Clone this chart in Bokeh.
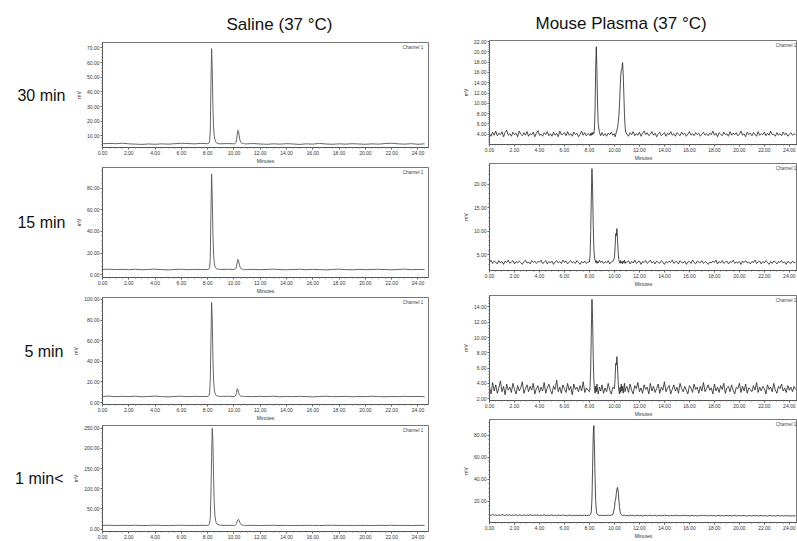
import numpy as np
from bokeh.plotting import figure
from bokeh.layouts import column, row
from bokeh.models import Range1d, LinearAxis, FixedTicker, PrintfTickFormatter, Label
from bokeh.embed import file_html
from bokeh.resources import INLINE

# ---------------- data ----------------
column_titles = ["Saline (37 °C)", "Mouse Plasma (37 °C)"]
row_labels = ["30 min", "15 min", "5 min", "1 min<"]
x_ticks = [0, 2, 4, 6, 8, 10, 12, 14, 16, 18, 20, 22, 24]

t_saline = [
    0.0, 0.5, 1.0, 1.5, 2.0, 2.5, 3.0, 3.5, 4.0, 4.5, 5.0, 5.5, 6.0, 6.5, 7.0, 7.5, 8.0,
    8.05, 8.1, 8.15, 8.2, 8.25, 8.3, 8.35, 8.4, 8.45, 8.5, 8.55, 8.6, 8.65, 8.7, 8.8, 8.9,
    9.0, 9.5,
    10.0, 10.05, 10.1, 10.15, 10.2, 10.25, 10.3, 10.35, 10.4, 10.45, 10.5, 10.55, 10.6, 10.65, 10.7, 10.75, 10.8, 10.85, 10.9,
    11.0, 11.5, 12.0, 12.5, 13.0, 13.5, 14.0, 14.5, 15.0, 15.5, 16.0, 16.5, 17.0, 17.5, 18.0, 18.5, 19.0, 19.5,
    20.0, 20.5, 21.0, 21.5, 22.0, 22.5, 23.0, 23.5, 24.0, 24.5,
]

t_plasma = [
    0.0, 0.125, 0.25, 0.375, 0.5, 0.625, 0.75, 0.875,
    1.0, 1.125, 1.25, 1.375, 1.5, 1.625, 1.75, 1.875,
    2.0, 2.125, 2.25, 2.375, 2.5, 2.625, 2.75, 2.875,
    3.0, 3.125, 3.25, 3.375, 3.5, 3.625, 3.75, 3.875,
    4.0, 4.125, 4.25, 4.375, 4.5, 4.625, 4.75, 4.875,
    5.0, 5.125, 5.25, 5.375, 5.5, 5.625, 5.75, 5.875,
    6.0, 6.125, 6.25, 6.375, 6.5, 6.625, 6.75, 6.875,
    7.0, 7.125, 7.25, 7.375, 7.5, 7.625, 7.75, 7.875,
    8.0,
    8.05, 8.1, 8.15, 8.2, 8.25, 8.3, 8.35, 8.4, 8.45, 8.5, 8.55, 8.6, 8.65, 8.7, 8.8, 8.9,
    9.0, 9.125, 9.25, 9.375, 9.5, 9.625, 9.75, 9.875,
    10.0, 10.05, 10.1, 10.15, 10.2, 10.25, 10.3, 10.35, 10.4, 10.45, 10.5, 10.55, 10.6, 10.65, 10.7, 10.75, 10.8, 10.85, 10.9,
    11.0, 11.125, 11.25, 11.375, 11.5, 11.625, 11.75, 11.875,
    12.0, 12.125, 12.25, 12.375, 12.5, 12.625, 12.75, 12.875,
    13.0, 13.125, 13.25, 13.375, 13.5, 13.625, 13.75, 13.875,
    14.0, 14.125, 14.25, 14.375, 14.5, 14.625, 14.75, 14.875,
    15.0, 15.125, 15.25, 15.375, 15.5, 15.625, 15.75, 15.875,
    16.0, 16.125, 16.25, 16.375, 16.5, 16.625, 16.75, 16.875,
    17.0, 17.125, 17.25, 17.375, 17.5, 17.625, 17.75, 17.875,
    18.0, 18.125, 18.25, 18.375, 18.5, 18.625, 18.75, 18.875,
    19.0, 19.125, 19.25, 19.375, 19.5, 19.625, 19.75, 19.875,
    20.0, 20.125, 20.25, 20.375, 20.5, 20.625, 20.75, 20.875,
    21.0, 21.125, 21.25, 21.375, 21.5, 21.625, 21.75, 21.875,
    22.0, 22.125, 22.25, 22.375, 22.5, 22.625, 22.75, 22.875,
    23.0, 23.125, 23.25, 23.375, 23.5, 23.625, 23.75, 23.875,
    24.0, 24.125, 24.25, 24.375, 24.5,
]

mv_saline_30 = [
    4.6, 4.9, 4.7, 5.0, 4.6, 4.4, 4.2, 4.5, 4.3, 4.6, 4.4, 4.7, 5.0, 4.8, 4.6, 4.9, 4.7,
    4.8, 5.0, 6.0, 14.0, 45.0, 69.5, 55.0, 30.0, 16.0, 10.0, 7.5, 6.0, 5.4, 5.1, 4.9, 4.7,
    4.6, 4.8,
    4.6, 4.7, 4.9, 5.6, 7.5, 11.0, 13.8, 13.0, 10.0, 7.5, 6.0, 5.3, 5.0, 4.8, 4.7, 4.9, 4.6, 4.8, 4.5,
    4.6, 4.8, 4.5, 4.3, 4.6, 4.4, 4.7, 4.5, 4.2, 4.6, 4.4, 4.9, 4.5, 4.3, 4.6, 4.4, 4.7, 4.5,
    4.3, 4.6, 4.4, 4.8, 5.0, 4.6, 4.4, 4.7, 4.3, 4.6,
]
mv_saline_15 = [
    4.9, 5.2, 4.8, 5.0, 4.7, 5.1, 4.6, 4.9, 5.2, 4.8, 4.5, 4.9, 5.1, 4.7, 5.0, 4.8, 4.9,
    5.0, 5.3, 6.5, 16.0, 58.0, 93.0, 72.0, 38.0, 19.0, 11.5, 8.0, 6.5, 5.8, 5.4, 5.1, 5.0,
    4.9, 5.1,
    4.8, 5.0, 5.2, 6.0, 8.0, 11.5, 14.2, 13.2, 10.0, 7.6, 6.2, 5.5, 5.2, 5.0, 4.9, 5.1, 4.8, 5.0, 4.7,
    4.8, 5.0, 4.7, 4.9, 5.2, 4.8, 4.6, 4.9, 5.1, 4.7, 5.0, 4.8, 4.5, 4.9, 5.2, 4.8, 4.6, 5.0,
    4.7, 4.9, 5.1, 4.8, 4.6, 4.9, 5.2, 4.7, 4.9, 4.8,
]
mv_saline_5 = [
    6.0, 6.3, 5.8, 6.1, 5.9, 6.2, 5.7, 6.0, 6.3, 5.9, 5.6, 6.0, 6.2, 5.8, 6.1, 5.9, 6.0,
    6.2, 7.0, 10.0, 22.0, 60.0, 97.0, 80.0, 44.0, 22.0, 13.0, 9.5, 7.8, 7.0, 6.6, 6.3, 6.1,
    6.0, 6.2,
    5.9, 6.1, 6.4, 7.5, 10.0, 13.5, 12.5, 10.0, 8.0, 7.0, 6.5, 6.3, 6.0, 6.2, 5.9, 6.1, 5.8, 6.0, 5.9,
    6.0, 5.8, 6.1, 5.9, 6.2, 5.7, 6.0, 5.8, 6.1, 5.9, 5.6, 6.0, 6.2, 5.8, 5.9, 6.1, 5.7, 6.0,
    5.8, 6.2, 5.9, 5.7, 6.0, 5.8, 6.1, 5.9, 6.0, 5.8,
]
mv_saline_1 = [
    9.0, 9.5, 8.8, 9.3, 8.9, 9.4, 8.7, 9.1, 9.6, 9.0, 8.8, 9.2, 9.5, 9.0, 8.9, 9.3, 9.1,
    9.5, 10.5, 14.0, 30.0, 85.0, 180.0, 250.0, 215.0, 130.0, 65.0, 35.0, 22.0, 16.0, 13.0, 11.0, 10.0,
    9.4, 9.2,
    9.1, 9.3, 9.8, 11.0, 14.0, 19.0, 23.0, 24.0, 21.0, 16.5, 13.0, 11.0, 10.0, 9.6, 9.4, 9.2, 9.3, 9.0, 9.1,
    9.0, 9.3, 8.8, 9.1, 9.4, 8.9, 9.2, 8.7, 9.0, 9.3, 9.1, 8.8, 9.2, 9.5, 8.9, 9.1, 8.8, 9.3,
    9.0, 8.7, 9.2, 9.0, 9.4, 8.9, 9.1, 8.8, 9.2, 9.0,
]

mv_plasma_30 = [
    4.1, 3.6, 4.4, 3.8, 4.6, 3.7, 4.2, 3.9,
    4.5, 3.5, 4.3, 4.8, 3.8, 4.1, 3.6, 4.4,
    3.9, 4.2, 3.5, 4.6, 4.0, 3.7, 4.3, 3.8,
    4.5, 3.6, 4.1, 3.9, 4.4, 3.5, 4.2, 4.7,
    3.8, 4.0, 3.6, 4.3, 3.9, 4.5, 3.7, 4.1,
    3.6, 4.4, 3.8, 4.2, 3.5, 4.6, 3.9, 4.0,
    4.3, 3.7, 4.5, 3.8, 4.1, 3.6, 4.4, 3.9,
    4.2, 3.5, 4.0, 4.6, 3.8, 4.3, 3.7, 4.1,
    3.9,
    3.7, 4.2, 3.8, 4.3, 3.9, 4.4, 4.1, 5.0, 9.0, 17.0, 21.0, 16.0, 9.5, 6.0, 4.3, 3.7,
    4.3, 3.7, 4.1, 3.6, 4.2, 3.9, 4.4, 3.8,
    4.1, 3.5, 3.9, 4.4, 4.8, 5.3, 6.2, 7.5, 9.5, 12.5, 15.3, 16.4, 16.8, 17.9, 15.8, 12.0, 8.0, 5.5, 4.4,
    4.0, 3.6, 4.3, 3.9, 4.5, 3.7, 4.1, 3.8,
    4.4, 3.6, 4.2, 4.6, 3.9, 4.3, 3.7, 4.0,
    4.5, 3.8, 4.2, 3.5, 4.1, 4.4, 3.7, 4.0,
    4.3, 3.6, 4.2, 3.9, 4.5, 3.8, 4.1, 3.6,
    4.3, 4.0, 3.7, 4.4, 3.9, 4.2, 3.6, 4.0,
    4.5, 3.8, 4.1, 3.7, 4.3, 3.9, 4.2, 3.6,
    4.0, 4.4, 3.8, 4.1, 3.7, 4.2, 3.9, 4.6,
    3.8, 4.2, 3.5, 4.3, 4.0, 3.7, 4.4, 3.9,
    4.1, 3.6, 4.5, 3.8, 4.2, 3.9, 4.3, 3.7,
    4.0, 4.6, 3.8, 4.1, 3.5, 4.4, 3.9, 4.2,
    3.7, 4.3, 4.0, 3.6, 4.5, 3.8, 4.1, 3.9,
    4.4, 3.7, 4.2, 3.8, 4.6, 3.9, 4.0, 3.6,
    4.3, 3.8, 4.1, 3.7, 4.4, 3.9, 4.2, 3.6,
    4.0, 4.3, 3.8, 4.1, 3.9,
]
mv_plasma_15 = [
    3.4, 3.9, 3.2, 3.7, 3.5, 3.1, 3.8, 3.3,
    3.6, 3.0, 3.7, 3.4, 3.9, 3.2, 3.5, 3.8,
    3.1, 3.6, 3.3, 3.7, 3.4, 3.0, 3.6, 3.9,
    3.3, 3.5, 3.1, 3.8, 3.4, 3.7, 3.2, 3.6,
    3.5, 3.9, 3.2, 3.4, 3.8, 3.1, 3.6, 3.3,
    3.7, 3.0, 3.5, 3.8, 3.3, 3.6, 3.2, 3.9,
    3.4, 3.7, 3.1, 3.5, 3.8, 3.3, 3.6, 3.2,
    3.8, 3.4, 3.0, 3.6, 3.3, 3.7, 3.2, 3.5,
    3.5,
    5.0, 10.0, 17.5, 23.3, 19.0, 11.5, 6.5, 4.5, 3.9, 3.4, 3.8, 3.2, 3.6, 3.3, 3.9, 3.4,
    3.7, 3.2, 3.6, 3.3, 3.8, 3.1, 3.5, 3.6,
    4.4, 6.5, 9.5, 9.1, 10.6, 8.0, 5.5, 4.0, 3.5, 3.2, 3.8, 3.3, 3.6, 3.1, 3.7, 3.4, 3.9, 3.2, 3.5,
    3.4, 3.8, 3.1, 3.6, 3.3, 3.9, 3.2, 3.5,
    3.7, 3.0, 3.6, 3.4, 3.8, 3.2, 3.5, 3.9,
    3.3, 3.6, 3.1, 3.7, 3.4, 3.2, 3.8, 3.5,
    3.0, 3.6, 3.3, 3.7, 3.4, 3.9, 3.2, 3.5,
    3.6, 3.1, 3.8, 3.4, 3.3, 3.7, 3.0, 3.5,
    3.6, 3.2, 3.9, 3.4, 3.1, 3.7, 3.5, 3.3,
    3.8, 3.2, 3.6, 3.4, 3.0, 3.5, 3.3, 3.7,
    3.4, 3.9, 3.1, 3.6, 3.3, 3.8, 3.2, 3.5,
    3.7, 3.1, 3.6, 3.4, 3.9, 3.2, 3.5, 3.3,
    3.6, 3.0, 3.7, 3.4, 3.8, 3.3, 3.5, 3.1,
    3.6, 3.4, 3.9, 3.2, 3.5, 3.7, 3.1, 3.6,
    3.3, 3.8, 3.4, 3.0, 3.6, 3.2, 3.7, 3.5,
    3.1, 3.6, 3.4, 3.8, 3.3, 3.5, 3.0, 3.6,
    3.4, 3.2, 3.7, 3.3, 3.5,
]
mv_plasma_5 = [
    3.5, 2.6, 4.1, 3.0, 3.8, 2.7, 3.4, 4.3,
    2.9, 3.6, 2.5, 3.9, 3.1, 3.5, 2.8, 4.0,
    3.2, 2.6, 3.7, 3.0, 3.4, 4.2, 2.7, 3.3,
    3.8, 2.9, 3.6, 3.1, 4.0, 2.6, 3.3, 3.7,
    2.8, 3.5, 3.0, 4.1, 2.7, 3.4, 3.9, 3.1,
    2.6, 3.6, 3.2, 4.4, 2.9, 3.5, 2.7, 3.8,
    3.3, 2.8, 4.0, 3.1, 3.6, 2.5, 3.9, 3.2,
    3.5, 2.9, 3.7, 3.0, 4.2, 2.8, 3.4, 3.1,
    2.9,
    3.6, 6.0, 11.0, 15.0, 12.5, 7.5, 4.5, 3.3, 2.7, 3.6, 2.9, 3.9, 3.1, 2.6, 3.5, 3.0,
    3.8, 2.7, 3.4, 2.9, 4.0, 3.1, 2.6, 3.5,
    3.3, 4.5, 6.6, 6.4, 7.5, 6.0, 4.2, 3.1, 2.6, 3.5, 2.8, 3.9, 3.0, 3.6, 2.7, 3.4, 4.0, 2.9, 3.3,
    3.6, 2.8, 3.9, 3.1, 2.6, 3.7, 3.3, 4.1,
    2.9, 3.4, 2.7, 3.8, 3.2, 3.5, 2.6, 4.0,
    3.0, 3.6, 2.8, 3.3, 3.9, 2.7, 3.5, 3.1,
    4.2, 2.9, 3.4, 3.7, 2.6, 3.2, 3.8, 3.0,
    3.5, 2.7, 4.0, 3.3, 2.9, 3.6, 3.1, 2.6,
    3.7, 3.4, 2.8, 3.9, 3.2, 3.5, 2.7, 3.6,
    3.0, 4.1, 2.9, 3.3, 3.8, 3.1, 3.4, 2.6,
    3.9, 3.0, 3.5, 2.8, 3.7, 3.2, 4.0, 2.7,
    3.4, 3.6, 2.9, 3.8, 3.1, 2.6, 3.5, 3.3,
    4.0, 2.8, 3.6, 3.0, 3.9, 2.7, 3.4, 3.2,
    2.9, 3.7, 3.1, 4.1, 2.8, 3.5, 3.0, 3.6,
    3.3, 2.6, 3.8, 3.2, 3.5, 2.9, 4.0, 3.1,
    2.7, 3.6, 3.3, 3.9, 3.0, 3.4, 2.8, 3.7,
    3.1, 3.5, 2.9, 3.6, 3.2,
]
mv_plasma_1 = [
    7.6, 6.9, 7.8, 7.1, 7.5, 6.8, 7.4, 7.0,
    7.7, 7.2, 6.9, 7.6, 7.0, 7.5, 6.8, 7.3,
    7.1, 7.6, 6.9, 7.4, 7.2, 6.7, 7.5, 7.0,
    7.3, 6.8, 7.6, 7.1, 6.9, 7.4, 7.0, 7.5,
    6.8, 7.2, 7.0, 7.5, 6.7, 7.3, 6.9, 7.1,
    7.4, 6.8, 7.2, 6.6, 7.3, 7.0, 6.9, 7.4,
    6.8, 7.1, 6.7, 7.3, 7.0, 6.6, 7.2, 6.9,
    7.1, 6.7, 7.3, 6.8, 7.0, 7.2, 6.7, 7.1,
    7.0,
    7.3, 8.0, 11.0, 22.0, 50.0, 80.0, 89.0, 70.0, 40.0, 20.0, 11.5, 8.5, 7.6, 7.2, 6.9, 7.1,
    7.0, 6.7, 7.1, 6.8, 7.2, 6.9, 7.3, 7.7,
    14.0, 20.0, 22.0, 27.0, 31.0, 32.6, 29.0, 22.0, 15.0, 10.5, 8.5, 7.6, 7.2, 6.9, 7.1, 6.8, 7.2, 7.0, 6.7,
    7.0, 6.6, 7.2, 6.8, 7.1, 6.5, 6.9, 7.2,
    6.7, 7.0, 6.4, 6.9, 7.1, 6.6, 6.8, 7.2,
    6.6, 6.9, 7.1, 6.5, 6.8, 7.0, 6.6, 6.9,
    7.2, 6.7, 6.9, 6.4, 7.0, 6.8, 6.6, 7.1,
    6.7, 6.9, 6.5, 7.0, 6.8, 7.2, 6.6, 6.9,
    6.5, 6.8, 7.0, 6.6, 6.9, 6.4, 6.8, 7.1,
    6.6, 6.9, 6.7, 7.0, 6.5, 6.8, 7.1, 6.6,
    6.9, 6.4, 6.8, 7.0, 6.6, 6.9, 6.5, 6.8,
    7.0, 6.6, 6.9, 6.4, 6.8, 7.1, 6.5, 6.7,
    6.9, 6.5, 6.8, 7.0, 6.6, 6.4, 6.9, 6.7,
    6.5, 6.8, 6.6, 7.0, 6.4, 6.7, 6.9, 6.5,
    6.8, 6.6, 6.3, 6.9, 6.7, 6.5, 6.8, 6.4,
    6.6, 6.9, 6.5, 6.7, 6.4, 6.8, 6.6, 6.5,
    6.7, 6.4, 6.8, 6.5, 6.6,
]

y_ticks_saline = [
    [10, 20, 30, 40, 50, 60, 70],
    [0, 20, 40, 60, 80],
    [0, 20, 40, 60, 80, 100],
    [0, 50, 100, 150, 200, 250],
]
y_ticks_plasma = [
    [4, 6, 8, 10, 12, 14, 16, 18, 20, 22],
    [5, 10, 15, 20],
    [2, 4, 6, 8, 10, 12, 14],
    [20, 40, 60, 80],
]

# ---------------- styling ----------------
FONT = "Liberation Sans"
x_minor = [i * 0.5 for i in range(0, 51)]


def minor_of(ticks, n=5):
    step = ticks[1] - ticks[0]
    return list(np.arange(ticks[0] - 2 * step, ticks[-1] + 2 * step, step / n))


def style_axis(ax, fs="5px"):
    ax.major_label_text_font = FONT
    ax.major_label_text_font_size = fs
    ax.major_label_text_color = "#333"
    ax.axis_label_text_font = FONT
    ax.axis_label_text_font_size = "5px"
    ax.axis_label_text_font_style = "normal"
    ax.axis_label_text_color = "#333"
    ax.axis_line_color = "#555"
    ax.major_tick_line_color = "#555"
    ax.minor_tick_line_color = "#777"
    ax.major_tick_out = 2
    ax.major_tick_in = 0
    ax.minor_tick_out = 1
    ax.minor_tick_in = 0
    ax.major_label_standoff = 1
    ax.axis_label_standoff = 1


def make_panel(t, mv, y_rng, yticks, x_hi, W, H, bl, br, bt, bb, color,
               row_label=None, title=None, title_offset=0, title_standoff=14,
               minutes=True, chan_x=None, lw=0.9):
    p = figure(width=W, height=H, x_range=Range1d(0, x_hi), y_range=Range1d(*y_rng),
               output_backend="svg", toolbar_location=None,
               min_border_left=bl, min_border_right=br, min_border_top=bt, min_border_bottom=bb,
               background_fill_color="white", border_fill_color="white")
    p.xgrid.visible = False
    p.ygrid.visible = False
    p.outline_line_color = "#777"
    p.outline_line_width = 1
    p.line(t, mv, line_color=color, line_width=lw)

    xa = p.xaxis[0]
    xa.ticker = FixedTicker(ticks=x_ticks, minor_ticks=x_minor)
    xa.formatter = PrintfTickFormatter(format="%.2f")
    style_axis(xa)
    if minutes:
        xa.axis_label = "Minutes"
        xa.axis_label_standoff = 0

    ya = p.yaxis[0]
    ya.ticker = FixedTicker(ticks=yticks, minor_ticks=minor_of(yticks))
    ya.formatter = PrintfTickFormatter(format="%.2f")
    style_axis(ya)
    ya.axis_label = "mV"
    ya.axis_label_standoff = 2

    if row_label:
        la = LinearAxis(ticker=FixedTicker(ticks=[]), axis_label=row_label)
        la.axis_label_orientation = "horizontal"
        la.axis_line_color = None
        la.major_tick_line_color = None
        la.minor_tick_line_color = None
        la.major_tick_out = 0
        la.minor_tick_out = 0
        la.major_label_standoff = 0
        la.major_label_text_font_size = "0px"
        la.axis_label_text_font = FONT
        la.axis_label_text_font_size = "16px"
        la.axis_label_text_font_style = "normal"
        la.axis_label_text_color = "#111"
        la.axis_label_standoff = 7
        p.add_layout(la, "left")

    if title:
        p.title.text = title
        p.title.text_font = FONT
        p.title.text_font_size = "17px"
        p.title.text_font_style = "normal"
        p.title.text_color = "#111"
        p.title.align = "left"
        p.title.offset = title_offset
        p.title.standoff = title_standoff

    p.add_layout(Label(x=chan_x, y=y_rng[1], text="Channel 1", text_font=FONT,
                       text_font_size="4.5px", text_color="#444", text_align="right",
                       text_baseline="top", y_offset=-2))
    return p


LEFT_C = "#555"
RIGHT_C = "#222"
LW, RW = 455, 342

p1 = make_panel(t_saline, mv_saline_30, (2.1, 73.7), y_ticks_saline[0], 24.8, LW, 166, 97, 27, 42, 15,
                LEFT_C, row_label=row_labels[0], title=column_titles[0], title_offset=124,
                title_standoff=18, chan_x=24.4)
p2 = make_panel(t_saline, mv_saline_15, (-2.5, 99.0), y_ticks_saline[1], 24.8, LW, 130, 97, 27, 1, 16,
                LEFT_C, row_label=row_labels[1], chan_x=24.4)
p3 = make_panel(t_saline, mv_saline_5, (-1.8, 101.8), y_ticks_saline[2], 24.8, LW, 127, 100, 27, 1, 14,
                LEFT_C, row_label=row_labels[2], chan_x=24.4)
p4 = make_panel(t_saline, mv_saline_1, (-6.0, 257.0), y_ticks_saline[3], 24.8, LW, 118, 102, 27, 2, 9,
                LEFT_C, row_label=row_labels[3], minutes=False, chan_x=24.4)

p5 = make_panel(t_plasma, mv_plasma_30, (2.0, 22.2), y_ticks_plasma[0], 24.65, RW, 163, 34, 0, 40, 15,
                RIGHT_C, title=column_titles[1], title_offset=46, title_standoff=16,
                chan_x=24.55, lw=0.8)
p6 = make_panel(t_plasma, mv_plasma_15, (1.7, 24.4), y_ticks_plasma[1], 24.65, RW, 126, 27, 0, 0, 17,
                RIGHT_C, chan_x=24.55, lw=0.8)
p7 = make_panel(t_plasma, mv_plasma_5, (1.75, 15.5), y_ticks_plasma[2], 24.65, RW, 130, 27, 0, 6, 15,
                RIGHT_C, chan_x=24.55, lw=0.8)
p8 = make_panel(t_plasma, mv_plasma_1, (0.5, 94.6), y_ticks_plasma[3], 24.65, RW, 122, 27, 0, 0, 14,
                RIGHT_C, chan_x=24.55, lw=0.8)

layout = row(column(p1, p2, p3, p4), column(p5, p6, p7, p8))
open("out.html", "w").write(file_html(layout, INLINE))
